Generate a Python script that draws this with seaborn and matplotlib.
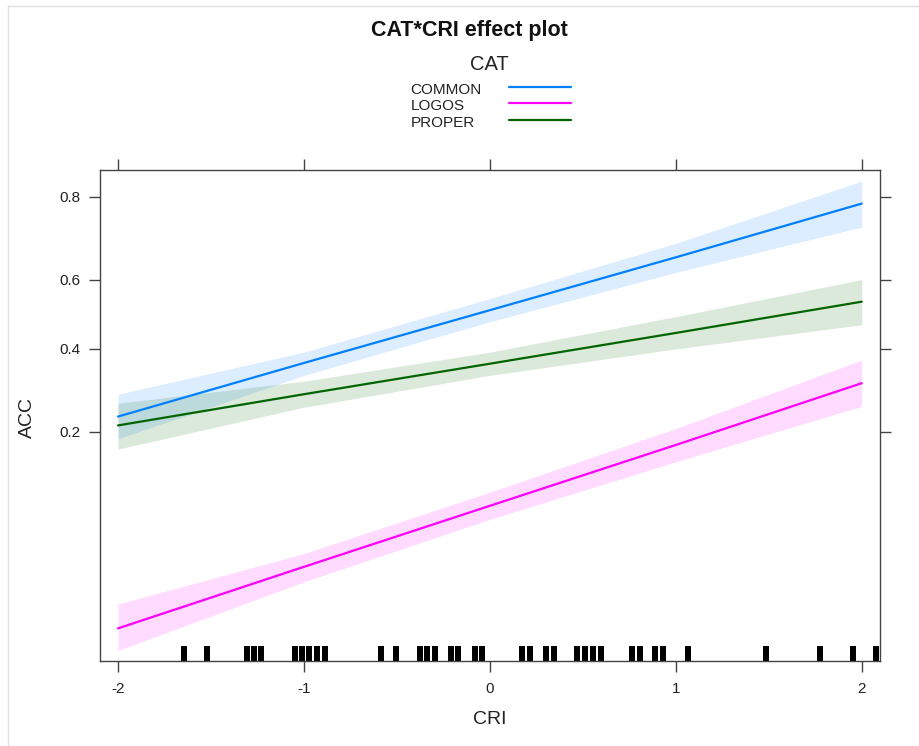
import numpy as np
import pandas as pd
import seaborn as sns
import matplotlib.pyplot as plt
from matplotlib.lines import Line2D
from matplotlib.ticker import NullLocator

# %% data (fitted ACC and 95% band at CRI grid points)
cri_grid = [-2, -1, 0, 1, 2]
categories = ["COMMON", "LOGOS", "PROPER"]

common_fit = [0.230, 0.360, 0.512, 0.662, 0.787]
common_lower = [0.187, 0.327, 0.478, 0.621, 0.737]
common_upper = [0.280, 0.390, 0.546, 0.698, 0.828]

logos_fit = [0.0239, 0.0482, 0.0943, 0.176, 0.307]
logos_lower = [0.0185, 0.0407, 0.0815, 0.149, 0.252]
logos_upper = [0.0316, 0.0559, 0.109, 0.206, 0.368]

proper_fit = [0.212, 0.280, 0.358, 0.445, 0.537]
proper_lower = [0.169, 0.250, 0.327, 0.399, 0.469]
proper_upper = [0.259, 0.312, 0.390, 0.493, 0.601]

# observed CRI values (rug)
cri_rug = [-1.645, -1.520, -1.308, -1.269, -1.230, -1.050, -1.011, -0.972,
           -0.932, -0.886, -0.588, -0.505, -0.376, -0.337, -0.297, -0.211,
           -0.172, -0.082, -0.043, 0.172, 0.215, 0.301, 0.344, 0.469, 0.512,
           0.555, 0.595, 0.767, 0.810, 0.889, 0.932, 1.065, 1.484, 1.778,
           1.953, 2.075]

y_ticks = [0.2, 0.4, 0.6, 0.8]
x_ticks = [-2, -1, 0, 1, 2]

colors = {"COMMON": "#0080ff", "LOGOS": "#ff00ff", "PROPER": "#006400"}

df = pd.DataFrame({
    "CRI": cri_grid * 3,
    "CAT": np.repeat(categories, len(cri_grid)),
    "ACC": common_fit + logos_fit + proper_fit,
    "lower": common_lower + logos_lower + proper_lower,
    "upper": common_upper + logos_upper + proper_upper,
})

# %% plot
sns.set_theme(style="white")
plt.rcParams["font.family"] = ["Liberation Sans", "DejaVu Sans"]
plt.rcParams["axes.unicode_minus"] = False

fig = plt.figure(figsize=(9.2, 7.46), dpi=100)
ax = fig.add_axes([100 / 920, 1 - 660.7 / 746, 780.5 / 920, 490.7 / 746])

for cat in categories:
    sub = df[df["CAT"] == cat]
    ax.fill_between(sub["CRI"], sub["lower"], sub["upper"],
                    color=colors[cat], alpha=0.14, lw=0)

sns.lineplot(data=df, x="CRI", y="ACC", hue="CAT", palette=colors,
             lw=1.6, legend=False, ax=ax)
sns.rugplot(x=cri_rug, height=0.03, linewidth=4.3, color="black", ax=ax)

ax.set_yscale("logit")
ax.set_ylim(0.01644, 0.846)
ax.set_xlim(-2.097, 2.101)
ax.set_yticks(y_ticks, labels=[str(t) for t in y_ticks])
ax.yaxis.set_minor_locator(NullLocator())
ax.set_xticks(x_ticks, labels=[str(t) for t in x_ticks])
ax.set_xlabel("")
ax.set_ylabel("")

for sp in ax.spines.values():
    sp.set_color("#444444")
    sp.set_linewidth(1.0)
ax.tick_params(axis="both", direction="out", length=8, width=1.0,
               color="#444444", labelsize=11, labelcolor="#222222",
               top=True, right=True, bottom=True, left=True,
               labeltop=False, labelright=False)
ax.tick_params(axis="x", pad=7)
ax.tick_params(axis="y", pad=6)

W, H = 920, 746
fig.text(469 / W, 1 - 36 / H, "CAT*CRI effect plot", ha="center",
         va="baseline", fontsize=15.5, fontweight="bold", color="#111111")
fig.text(489 / W, 1 - 70 / H, "CAT", ha="center", va="baseline",
         fontsize=14.5, color="#222222")

# legend: labels on the left, line keys on the right
for i, cat in enumerate(categories):
    base = 94 + i * 16.5
    fig.text(410.7 / W, 1 - base / H, cat, ha="left", va="baseline",
             fontsize=11, color="#222222")
    ly = 1 - (base - 7.3) / H
    fig.add_artist(Line2D([509 / W, 571 / W], [ly, ly], color=colors[cat],
                          lw=1.6, transform=fig.transFigure))

fig.text(27 / W, 1 - 417 / H, "ACC", rotation=90, ha="center", va="center",
         fontsize=14, color="#222222")
fig.text(490 / W, 1 - 720 / H, "CRI", ha="center", va="center",
         fontsize=14, color="#222222")

# screenshot frame
fig.add_artist(Line2D([8 / W, 8 / W], [0, 1 - 6 / H], color="#e0e0e0",
                      lw=1, transform=fig.transFigure))
fig.add_artist(Line2D([8 / W, 1], [1 - 6 / H, 1 - 6 / H], color="#e0e0e0",
                      lw=1, transform=fig.transFigure))

fig.savefig("out.png", dpi=100)
